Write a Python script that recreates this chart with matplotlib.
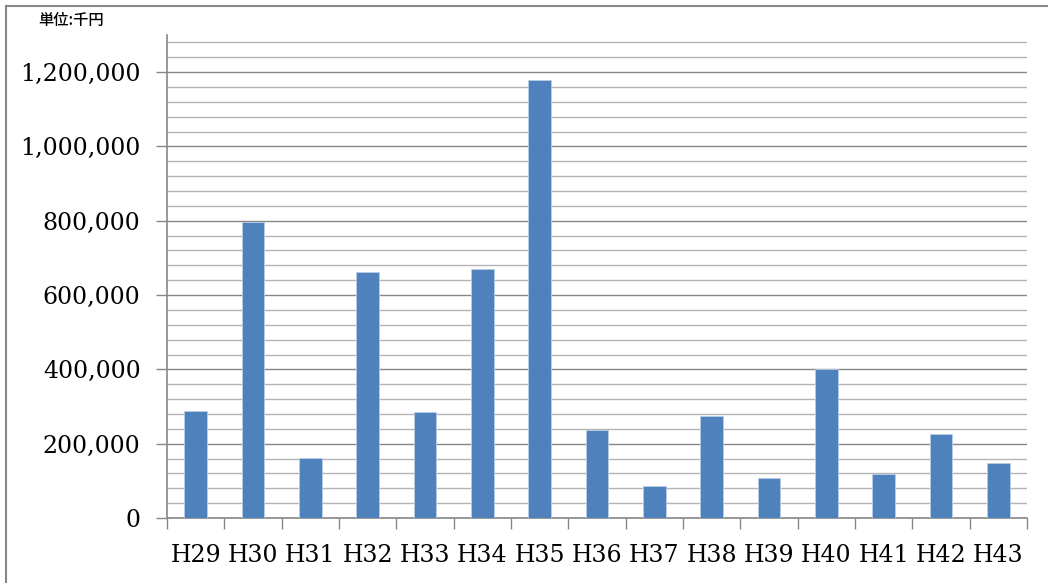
import numpy as np
import matplotlib.pyplot as plt
from matplotlib.lines import Line2D
from matplotlib.ticker import FuncFormatter, MultipleLocator

years = ["H29", "H30", "H31", "H32", "H33", "H34", "H35", "H36",
         "H37", "H38", "H39", "H40", "H41", "H42", "H43"]
amounts = [288000, 798000, 162000, 661000, 285000, 669000, 1180000, 237000,
           86000, 274000, 107000, 401000, 118000, 227000, 147000]

serif = ["DejaVu Serif"]

fig = plt.figure(figsize=(10.48, 5.83), dpi=100)
ax = fig.add_axes([167 / 1048, 1 - 518 / 583, 860 / 1048, 483 / 583])

x = np.arange(len(years))
ax.bar(x, amounts, width=0.4, color="#4F81BD", edgecolor="#B9CDE5",
       linewidth=0.6, zorder=3)

ax.set_xlim(-0.5, len(years) - 0.5)
ax.set_ylim(0, 1300000)
ax.yaxis.set_major_locator(MultipleLocator(200000))
ax.yaxis.set_minor_locator(MultipleLocator(40000))
ax.yaxis.set_major_formatter(FuncFormatter(lambda v, p: "{:,}".format(int(v))))
ax.grid(which="major", axis="y", color="#878787", linewidth=1.0, zorder=1)
ax.grid(which="minor", axis="y", color="#B5B5B5", linewidth=1.0, zorder=1)

# category boundary ticks on x axis
ax.set_xticks(np.arange(-0.5, len(years), 1.0))
ax.set_xticklabels([])
ax.set_xticks(x, minor=True)
ax.set_xticklabels(years, minor=True, fontfamily=serif, fontsize=17)
ax.tick_params(axis="x", which="major", direction="out", length=8,
               color="#878787", width=1.0)
ax.tick_params(axis="x", which="minor", length=0, pad=19)
ax.tick_params(axis="y", which="major", direction="out", length=8,
               color="#878787", width=1.0, pad=11)
ax.tick_params(axis="y", which="minor", length=0)
for lab in ax.get_yticklabels():
    lab.set_fontfamily(serif)
    lab.set_fontsize(17)

for side in ["top", "right"]:
    ax.spines[side].set_visible(False)
for side in ["left", "bottom"]:
    ax.spines[side].set_color("#878787")
    ax.spines[side].set_linewidth(1.2)

fig.text(38 / 1048, 1 - 21 / 583, "単位:千円", fontsize=11, fontweight="medium",
         family=["Noto Sans CJK JP", "DejaVu Sans"], va="center", ha="left")

# chart border: only top and left edges fall inside the image
fig.add_artist(Line2D([6 / 1048, 1], [1 - 6 / 583, 1 - 6 / 583],
                      transform=fig.transFigure, color="#878787", linewidth=1.5))
fig.add_artist(Line2D([6 / 1048, 6 / 1048], [0, 1 - 6 / 583],
                      transform=fig.transFigure, color="#878787", linewidth=1.5))

fig.savefig("out.png", dpi=100)
